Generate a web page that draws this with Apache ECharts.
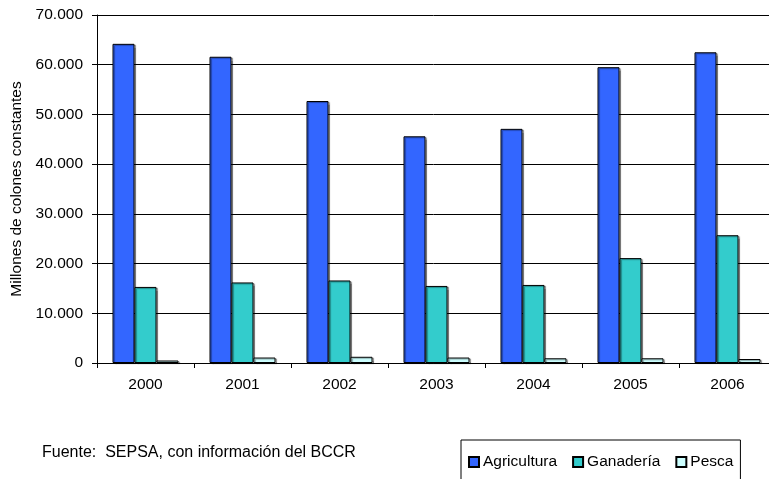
<!DOCTYPE html>
<html>
<head>
<meta charset="utf-8">
<script src="https://cdn.jsdelivr.net/npm/echarts@6/dist/echarts.min.js"></script>
<style>
  html, body { margin: 0; padding: 0; background: #fff; }
  #chart { width: 769px; height: 479px; }
</style>
</head>
<body>
<div id="chart"></div>
<script>
// datos (millones de colones constantes)
var years = ["2000", "2001", "2002", "2003", "2004", "2005", "2006"];
var agricultura = [64200, 61600, 52700, 45600, 47100, 59500, 62500];
var ganaderia = [15300, 16200, 16600, 15500, 15700, 21100, 25700];
var pesca = [500, 1100, 1250, 1100, 950, 950, 800];
var yTicks = { min: 0, max: 70000, interval: 10000 };

var font = "Liberation Sans, Arial, sans-serif";
var chart = echarts.init(document.getElementById("chart"));

function fmt(v) {
  return String(v).replace(/\B(?=(\d{3})+(?!\d))/g, ".");
}

function barSeries(name, data, color) {
  return {
    name: name,
    type: "bar",
    data: data,
    barWidth: 22,
    barGap: "0%",
    itemStyle: {
      color: color,
      borderColor: "#000",
      borderWidth: 1,
      shadowColor: "rgba(0,0,0,0.35)",
      shadowOffsetX: 1.5,
      shadowOffsetY: 1,
      shadowBlur: 1
    }
  };
}

var option = {
  animation: false,
  backgroundColor: "#fff",
  textStyle: { fontFamily: font, color: "#000" },
  grid: { left: 97, top: 15, width: 679, height: 348, outerBoundsMode: "none", containLabel: false },
  xAxis: {
    type: "category",
    data: years,
    axisLine: { lineStyle: { color: "#000", width: 1 } },
    axisTick: { show: true, length: 5, lineStyle: { color: "#000" } },
    axisLabel: { color: "#000", fontSize: 15.5, margin: 14, fontFamily: font }
  },
  yAxis: {
    type: "value",
    min: yTicks.min,
    max: yTicks.max,
    interval: yTicks.interval,
    name: "Millones de colones constantes",
    nameLocation: "middle",
    nameGap: 67,
    nameTextStyle: { color: "#000", fontSize: 15.5, fontFamily: font },
    axisLine: { show: true, lineStyle: { color: "#000", width: 1 } },
    axisTick: { show: true, length: 5, lineStyle: { color: "#000" } },
    axisLabel: { color: "#000", fontSize: 15.5, margin: 14, fontFamily: font, formatter: fmt },
    splitLine: { show: true, lineStyle: { color: "#000", width: 1 } }
  },
  legend: {
    left: 461,
    top: 440,
    padding: [14, 7, 25, 7],
    itemWidth: 10,
    itemHeight: 10,
    itemGap: 15,
    icon: "rect",
    borderColor: "#000",
    borderWidth: 1,
    textStyle: { color: "#000", fontSize: 15.5, lineHeight: 16, fontFamily: font, padding: [0, 0, 0, -1] },
    data: ["Agricultura", "Ganadería", "Pesca"]
  },
  graphic: [
    {
      type: "text",
      left: 42,
      top: 445,
      style: {
        text: "Fuente:  SEPSA, con información del BCCR",
        fill: "#000",
        font: "16px " + font
      }
    }
  ],
  series: [
    barSeries("Agricultura", agricultura, "#3366FF"),
    barSeries("Ganadería", ganaderia, "#33CCCC"),
    barSeries("Pesca", pesca, "#CCFFFF")
  ]
};

chart.setOption(option);
</script>
</body>
</html>
